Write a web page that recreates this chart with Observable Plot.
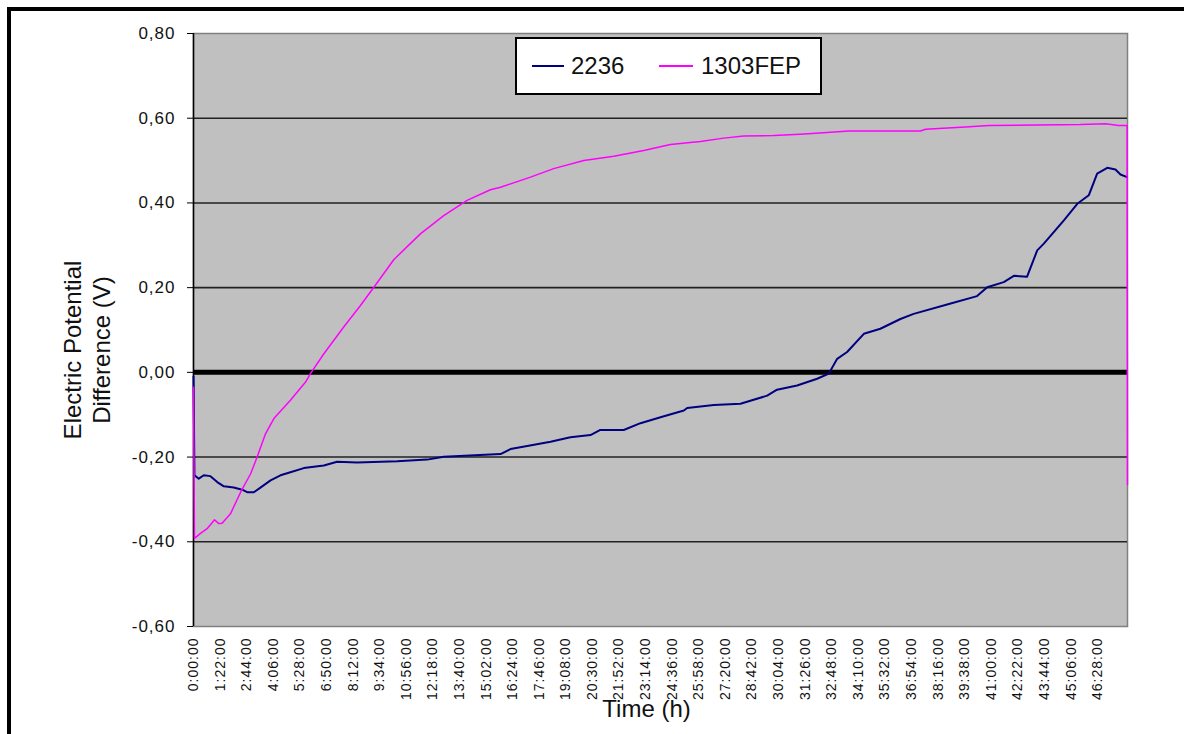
<!DOCTYPE html>
<html>
<head>
<meta charset="utf-8">
<script src="https://cdn.jsdelivr.net/npm/d3@7"></script>
<script src="https://cdn.jsdelivr.net/npm/@observablehq/plot@0.6"></script>
<style>
  html, body { margin: 0; padding: 0; background: #fff; overflow: hidden; }
  #wrap { position: relative; width: 1184px; height: 734px; font-family: "Liberation Sans", Arial, sans-serif; }
  #wrap svg { position: absolute; left: 0; top: 0; }
  #border { position: absolute; left: 7px; top: 7px; width: 1300px; height: 900px; border-left: 4px solid #000; border-top: 4px solid #000; box-sizing: border-box; pointer-events: none; }
  #legend { position: absolute; left: 515px; top: 37px; width: 307px; height: 58px; background: #fff; border: 2px solid #000; box-sizing: border-box; }
  #legend .sw { position: absolute; height: 2px; }
  #legend .lb { position: absolute; height: 30px; line-height: 30px; font-size: 24px; color: #111; white-space: nowrap; }
  g[aria-label="x-axis tick label"] text { letter-spacing: 1px; }
  g[aria-label="y-axis tick label"] text { letter-spacing: 1px; }
</style>
</head>
<body>
<div id="wrap"></div>
<script>
// ---- data (hours since start, potential in V) ----
const seriesNames = ["2236", "1303FEP"];
const seriesColors = ["#000080", "#ff00ff"];

const hours2236 = [0, 0.05, 0.27, 0.53, 0.87, 1.22, 1.56, 2.07, 2.50, 2.76, 3.10, 3.44, 3.96, 4.47, 4.98, 5.67, 6.70, 7.38, 8.41, 10.47, 12.01, 12.86, 15.78, 16.29, 17.15, 18.35, 19.37, 20.40, 20.91, 22.11, 22.97, 24.00, 25.20, 25.37, 26.74, 28.11, 29.48, 29.99, 31.02, 32.05, 32.65, 33.08, 33.59, 34.45, 35.30, 36.33, 37.01, 38.73, 40.27, 40.79, 41.64, 42.16, 42.84, 43.36, 43.70, 44.73, 45.42, 46.01, 46.44, 46.96, 47.38, 47.64, 47.98];
const values2236 = [-0.010, -0.243, -0.251, -0.243, -0.245, -0.259, -0.269, -0.272, -0.277, -0.283, -0.283, -0.272, -0.255, -0.243, -0.236, -0.226, -0.220, -0.211, -0.213, -0.210, -0.206, -0.199, -0.193, -0.181, -0.174, -0.164, -0.153, -0.148, -0.136, -0.136, -0.120, -0.106, -0.090, -0.084, -0.077, -0.074, -0.055, -0.041, -0.031, -0.015, -0.003, 0.032, 0.048, 0.091, 0.103, 0.126, 0.138, 0.160, 0.180, 0.201, 0.213, 0.228, 0.226, 0.288, 0.304, 0.359, 0.398, 0.418, 0.469, 0.483, 0.479, 0.467, 0.461];

const hours1303 = [0, 0.05, 0.36, 0.70, 1.08, 1.30, 1.47, 1.90, 2.42, 2.93, 3.27, 3.70, 4.13, 4.98, 5.76, 6.01, 6.70, 7.72, 8.58, 9.27, 10.29, 11.66, 12.86, 14.06, 15.26, 15.78, 17.32, 18.51, 20.06, 21.60, 23.14, 24.51, 26.05, 27.25, 28.28, 29.82, 31.19, 32.56, 33.67, 37.36, 37.62, 39.67, 40.87, 45.58, 46.87, 47.55, 47.98, 48.0];
const values1303 = [-0.035, -0.392, -0.380, -0.369, -0.348, -0.357, -0.356, -0.334, -0.283, -0.240, -0.200, -0.145, -0.109, -0.066, -0.023, -0.003, 0.044, 0.107, 0.158, 0.201, 0.266, 0.327, 0.370, 0.406, 0.431, 0.437, 0.461, 0.481, 0.500, 0.510, 0.524, 0.538, 0.545, 0.553, 0.558, 0.559, 0.562, 0.566, 0.570, 0.570, 0.574, 0.579, 0.583, 0.585, 0.587, 0.583, 0.583, -0.265];

const xTickLabels = ["0:00:00", "1:22:00", "2:44:00", "4:06:00", "5:28:00", "6:50:00", "8:12:00", "9:34:00", "10:56:00", "12:18:00", "13:40:00", "15:02:00", "16:24:00", "17:46:00", "19:08:00", "20:30:00", "21:52:00", "23:14:00", "24:36:00", "25:58:00", "27:20:00", "28:42:00", "30:04:00", "31:26:00", "32:48:00", "34:10:00", "35:32:00", "36:54:00", "38:16:00", "39:38:00", "41:00:00", "42:22:00", "43:44:00", "45:06:00", "46:28:00"];
const yTickLabels = ["-0,60", "-0,40", "-0,20", "0,00", "0,20", "0,40", "0,60", "0,80"];

const xTitle = "Time (h)";
const yTitle = "Electric Potential\nDifference (V)";

// ---- derived tables ----
const xTickHours = xTickLabels.map(s => { const [h, m, sec] = s.split(":").map(Number); return h + m / 60 + sec / 3600; });
const xLabelOf = new Map(xTickHours.map((h, i) => [h, xTickLabels[i]]));
const yTickValues = yTickLabels.map(s => +s.replace(",", "."));
const yLabelOf = new Map(yTickValues.map((v, i) => [v, yTickLabels[i]]));
const gridValues = yTickValues.filter(v => v !== 0 && v !== yTickValues[0] && v !== yTickValues[yTickValues.length - 1]);

const data2236 = hours2236.map((h, i) => ({h, v: values2236[i]}));
const data1303 = hours1303.map((h, i) => ({h, v: values1303[i]}));

const chart = Plot.plot({
  width: 1184,
  height: 734,
  marginLeft: 193,
  marginRight: 57,
  marginTop: 33,
  marginBottom: 108,
  style: {fontFamily: "Liberation Sans, Arial, sans-serif", background: "transparent", color: "#111", overflow: "visible"},
  x: {domain: [0, 48]},
  y: {domain: [yTickValues[0], yTickValues[yTickValues.length - 1]]},
  marks: [
    Plot.frame({fill: "#c0c0c0", stroke: "#808080", strokeWidth: 1.5}),
    Plot.ruleY(gridValues, {stroke: "#222", strokeWidth: 1.6}),
    Plot.ruleY([0], {stroke: "#000", strokeWidth: 5}),
    Plot.ruleX([0], {stroke: "#000", strokeWidth: 1.5}),
    Plot.axisY(yTickValues, {tickSize: 6, tickPadding: 12, tickFormat: d => yLabelOf.get(d), fontSize: 17, label: null, stroke: "#000"}),
    Plot.axisX(xTickHours, {tickRotate: -90, tickSize: 0, tickPadding: 11, tickFormat: d => xLabelOf.get(d), fontSize: 14, label: null}),
    Plot.line(data2236, {x: "h", y: "v", stroke: seriesColors[0], strokeWidth: 2}),
    Plot.line(data1303, {x: "h", y: "v", stroke: seriesColors[1], strokeWidth: 1.5}),
    Plot.text([yTitle], {text: d => d, frameAnchor: "left", rotate: -90, dx: -107, dy: 20, fontSize: 24, lineHeight: 1.17, textAnchor: "middle", lineAnchor: "middle", fill: "#111"}),
    Plot.text([xTitle], {text: d => d, frameAnchor: "bottom", dx: -14, dy: 83, fontSize: 24, textAnchor: "middle", lineAnchor: "middle", fill: "#111"})
  ]
});

const wrap = document.getElementById("wrap");
wrap.appendChild(chart);

const border = document.createElement("div");
border.id = "border";
wrap.appendChild(border);

// legend (inside the plot area, as in the reference)
const legend = document.createElement("div");
legend.id = "legend";
const swLeft = [15, 142], swWidth = [32, 34], lbLeft = [54, 184];
seriesNames.forEach((name, i) => {
  const sw = document.createElement("div");
  sw.className = "sw";
  sw.style.left = swLeft[i] + "px";
  sw.style.width = swWidth[i] + "px";
  sw.style.top = "26px";
  sw.style.background = seriesColors[i];
  legend.appendChild(sw);
  const lb = document.createElement("div");
  lb.className = "lb";
  lb.style.left = lbLeft[i] + "px";
  lb.style.top = "12px";
  lb.textContent = name;
  legend.appendChild(lb);
});
wrap.appendChild(legend);
</script>
</body>
</html>
